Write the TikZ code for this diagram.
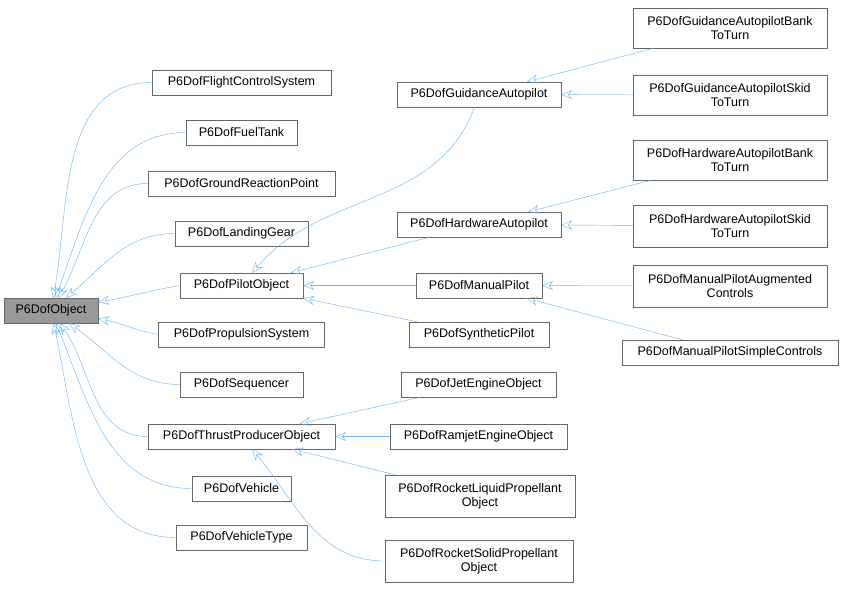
\documentclass[tikz,border=0pt]{standalone}
\usepackage{fontspec}
\setmainfont{Liberation Sans}
\usetikzlibrary{arrows.meta}
\definecolor{edgeblue}{RGB}{99,178,250}
\begin{document}
\begin{tikzpicture}[x=1pt,y=-1pt,
 box/.style={draw={rgb,255:red,102;green,102;blue,102},fill=white,inner sep=0pt,align=center,
   font=\fontsize{12.5}{14}\selectfont,minimum height=25pt},
 inh/.style={draw=edgeblue,{Stealth[open,length=11pt,width=9pt]}-}]
\useasboundingbox (0,0) rectangle (844,589);
\node[box,fill={rgb,255:red,153;green,153;blue,153},minimum width=94pt] (obj) at (51,310.5) {P6DofObject};
\node[box,minimum width=179pt] (fcs) at (241.5,82.5) {P6DofFlightControlSystem};
\node[box,minimum width=111pt] (fuel) at (241.5,132.5) {P6DofFuelTank};
\node[box,minimum width=187pt] (grp) at (241.5,183.5) {P6DofGroundReactionPoint};
\node[box,minimum width=133pt] (lg) at (241.5,233.5) {P6DofLandingGear};
\node[box,minimum width=123pt] (pil) at (241.5,285.5) {P6DofPilotObject};
\node[box,minimum width=166pt] (prop) at (241.5,334.5) {P6DofPropulsionSystem};
\node[box,minimum width=123pt] (seq) at (241.5,384.5) {P6DofSequencer};
\node[box,minimum width=187pt] (thr) at (241.5,436.5) {P6DofThrustProducerObject};
\node[box,minimum width=99pt] (veh) at (241.5,488.5) {P6DofVehicle};
\node[box,minimum width=131pt] (vt) at (241.5,537.5) {P6DofVehicleType};
\node[box,minimum width=164pt] (ga) at (479,94.5) {P6DofGuidanceAutopilot};
\node[box,minimum width=164pt] (ha) at (479,224.5) {P6DofHardwareAutopilot};
\node[box,minimum width=126pt] (mp) at (479,285.5) {P6DofManualPilot};
\node[box,minimum width=140pt] (sp) at (479,334.5) {P6DofSyntheticPilot};
\node[box,minimum width=155pt] (jet) at (478.5,384.5) {P6DofJetEngineObject};
\node[box,minimum width=177pt] (ram) at (478.5,436.5) {P6DofRamjetEngineObject};
\node[box,minimum width=190pt,minimum height=42pt] (liq) at (480,496) {P6DofRocketLiquidPropellant\\Object};
\node[box,minimum width=188pt,minimum height=42pt] (sol) at (479,561) {P6DofRocketSolidPropellant\\Object};
\node[box,minimum width=194pt,minimum height=40pt] (gb) at (730,28) {P6DofGuidanceAutopilotBank\\ToTurn};
\node[box,minimum width=194pt,minimum height=40pt] (gs) at (730,95) {P6DofGuidanceAutopilotSkid\\ToTurn};
\node[box,minimum width=194pt,minimum height=40pt] (hb) at (730,160) {P6DofHardwareAutopilotBank\\ToTurn};
\node[box,minimum width=194pt,minimum height=42pt] (hs) at (730,226) {P6DofHardwareAutopilotSkid\\ToTurn};
\node[box,minimum width=194pt,minimum height=42pt] (ma) at (730,286) {P6DofManualPilotAugmented\\Controls};
\node[box,minimum width=216pt] (ms) at (730,352.5) {P6DofManualPilotSimpleControls};
\draw[inh] (obj) to[out=80,in=180] (fcs.west);
\draw[inh] (obj) to[out=70,in=180] (fuel.west);
\draw[inh] (obj) to[out=60,in=180] (grp.west);
\draw[inh] (obj) to[out=40,in=180] (lg.west);
\draw[inh] (obj) to[out=10,in=190] (pil.west);
\draw[inh] (obj) to[out=-10,in=170] (prop.west);
\draw[inh] (obj) to[out=-35,in=180] (seq.west);
\draw[inh] (obj) to[out=-55,in=180] (thr.west);
\draw[inh] (obj) to[out=-68,in=180] (veh.west);
\draw[inh] (obj) to[out=-78,in=180] (vt.west);
\draw[inh] (pil) to[out=50,in=-110] (ga);
\draw[inh] (pil) -- (ha);
\draw[inh] (pil) -- (mp);
\draw[inh] (pil) -- (sp);
\draw[inh] (thr) -- (jet);
\draw[inh] (thr) -- (ram);
\draw[inh] (thr) -- (liq);
\draw[inh] (thr) to[out=-50,in=180] (sol.west);
\draw[inh] (ga) -- (gb);
\draw[inh] (ga) -- (gs);
\draw[inh] (ha) -- (hb);
\draw[inh] (ha) -- (hs);
\draw[inh] (mp) -- (ma);
\draw[inh] (mp) -- (ms);
\end{tikzpicture}
\end{document}
